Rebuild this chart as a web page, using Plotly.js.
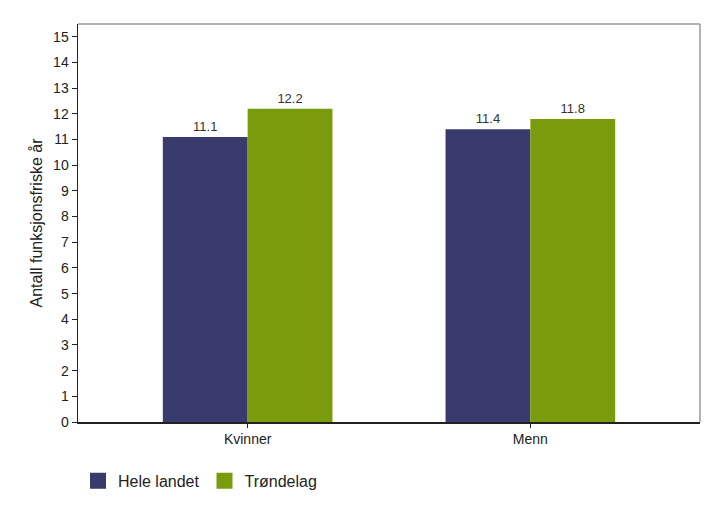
<!DOCTYPE html>
<html><head><meta charset="utf-8">
<script src="https://cdn.plot.ly/plotly-3.0.1.min.js"></script>
<style>body{margin:0;background:#fff}#c{width:707px;height:514px}</style>
</head><body><div id="c"></div>
<script>
const categories = ["Kvinner", "Menn"];
const heleLandet = [11.1, 11.4];
const trondelag = [12.2, 11.8];
const seriesNames = ["Hele landet", "Trøndelag"];
const seriesColors = ["#383b6c", "#7a9c0c"];
const yTicks = [0,1,2,3,4,5,6,7,8,9,10,11,12,13,14,15];

const font = "Liberation Sans, Arial, sans-serif";
const values = [heleLandet, trondelag];
const traces = [];
values.forEach((vals, i) => {
  traces.push({type:"bar", name:seriesNames[i], x:categories, y:vals, showlegend:false,
   marker:{color:seriesColors[i]}, text:vals.map(v=>v.toFixed(1)), textposition:"outside",
   textfont:{size:13,color:"#333",family:font}, cliponaxis:false});
});
values.forEach((vals, i) => {
  traces.push({type:"scatter", mode:"markers", name:seriesNames[i], x:[null], y:[null],
   marker:{symbol:"square", size:16, color:seriesColors[i]}, showlegend:true});
});
const layout = {
  width:707, height:514,
  margin:{l:78, r:7, t:24, b:92},
  paper_bgcolor:"#fff", plot_bgcolor:"#fff",
  font:{family:font, color:"#222", size:14},
  barmode:"group", bargap:0.4, bargroupgap:0,
  showlegend:true,
  legend:{orientation:"h", x:0.0, xanchor:"left", y:-0.105, yanchor:"top",
          font:{size:16, color:"#222"}, itemwidth:30, traceorder:"normal", itemsizing:"trace"},
  xaxis:{type:"category", range:[-0.6,1.6], showline:true, linecolor:"#222", linewidth:1.5,
         ticks:"outside", ticklen:4, tickcolor:"#222", tickfont:{size:14}, showgrid:false, zeroline:false},
  yaxis:{range:[0,15.5], tickvals:yTicks, showline:true, linecolor:"#222", linewidth:1.5,
         ticks:"outside", ticklen:5, tickcolor:"#222", tickfont:{size:14}, showgrid:false, zeroline:false,
         title:{text:"Antall funksjonsfriske år", font:{size:16}, standoff:6}},
  shapes:[
    {type:"line", xref:"paper", yref:"paper", x0:0, x1:1, y0:1, y1:1, line:{color:"#999", width:1.5}},
    {type:"line", xref:"paper", yref:"paper", x0:1, x1:1, y0:0, y1:1, line:{color:"#999", width:1.5}}
  ]
};
Plotly.newPlot("c", traces, layout, {displayModeBar:false, staticPlot:true});
</script></body></html>
